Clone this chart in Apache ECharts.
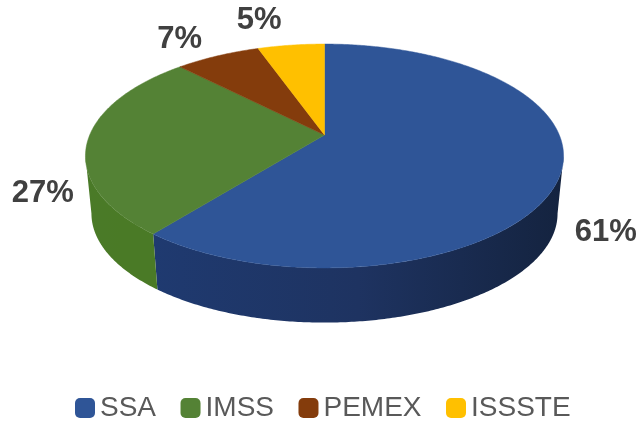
<!DOCTYPE html>
<html>
<head>
<meta charset="utf-8">
<style>html,body{margin:0;padding:0;background:#fff}#c{width:643px;height:422px}</style>
<script src="https://cdn.jsdelivr.net/npm/echarts@6/dist/echarts.min.js"></script>
</head>
<body>
<div id="c"></div>
<script>
// Data
var categories = ['SSA', 'IMSS', 'PEMEX', 'ISSSTE'];
var values = [60.7, 27, 6.9, 5.4];
var percentLabels = ['61%', '27%', '7%', '5%'];

// Styles
var topColors = ['#2f5597', '#548235', '#843c0c', '#ffc000'];
var wallColors = [
  ['#1f3a70', '#1e3361', '#14233f'],
  ['#4a7a28', '#4a7a26', '#4a7a26'],
  ['#5e2b08', '#5e2b08', '#5e2b08'],
  ['#b58800', '#b58800', '#b58800']
];
var labelNudge = [[45, 59], [-45, 53], [-38, -16], [-32, -25]];

// Tilted-disc projection (perspective of a circle seen from above)
var CX = 324.5, CY = 135, RX = 234.8, RY = 108, K = 0.1875;
var WALL_SCALE = 0.975, WALL_DROP = 58;
var total = values.reduce(function (a, b) { return a + b; }, 0);

function project(theta, scale, drop) {
  var u = Math.sin(theta), v = -Math.cos(theta);
  var s = 1 / (1 - K * v);
  return [CX + RX * u * s * scale, CY + RY * v * s * scale + drop];
}
function arc(a0, a1, scale, drop) {
  var n = Math.max(2, Math.ceil(Math.abs(a1 - a0) / 0.01)), pts = [];
  for (var i = 0; i <= n; i++) pts.push(project(a0 + (a1 - a0) * i / n, scale, drop));
  return pts;
}
// Angles run from the top of the disc, counter-clockwise (negative), ISSSTE first.
var angles = [], acc = 0;
for (var i = values.length - 1; i >= 0; i--) {
  var a0 = -acc / total * Math.PI * 2;
  acc += values[i];
  angles[i] = [a0, -acc / total * Math.PI * 2];
}
// The side wall shows only between the left and right tangent points of the disc.
var tangent = Math.acos(-K);
var WALL_FROM = -tangent, WALL_TO = -(2 * Math.PI - tangent);

function renderSlice(idx) {
  return function () {
    var a0 = angles[idx][0], a1 = angles[idx][1];
    var topArc = arc(a0, a1, 1, 0);
    var mid = project((a0 + a1) / 2, 1, 0);
    var c = wallColors[idx];
    var children = [];
    var w0 = Math.min(a0, WALL_FROM), w1 = Math.max(a1, WALL_TO);
    if (w0 > w1) {
      children.push({
        type: 'polygon', z2: 1,
        shape: { points: arc(w0, w1, 1, 0).concat(arc(w1, w0, WALL_SCALE, WALL_DROP)) },
        style: { fill: new echarts.graphic.LinearGradient(0, 0, 1, 0, [
          { offset: 0, color: c[0] }, { offset: 0.5, color: c[1] }, { offset: 1, color: c[2] }
        ]) }
      });
    }
    children.push({
      type: 'polygon', z2: 2,
      shape: { points: [[CX, CY]].concat(topArc) },
      style: { fill: topColors[idx], stroke: topColors[idx], lineWidth: 0.5 }
    });
    children.push({
      type: 'text', z2: 3,
      style: {
        text: percentLabels[idx],
        x: mid[0] + labelNudge[idx][0],
        y: mid[1] + labelNudge[idx][1],
        align: 'center', verticalAlign: 'middle',
        fill: '#404040',
        font: 'bold 31px "Liberation Sans", Arial, sans-serif'
      }
    });
    return { type: 'group', children: children };
  };
}

var chart = echarts.init(document.getElementById('c'), null, { renderer: 'canvas' });
chart.setOption({
  animation: false,
  backgroundColor: '#ffffff',
  legend: {
    data: categories,
    left: 75, top: 394,
    padding: 0,
    icon: 'roundRect',
    itemWidth: 20, itemHeight: 20, itemGap: 24.5,
    textStyle: { fontFamily: '"Liberation Sans", Arial, sans-serif', fontSize: 28, color: '#595959' }
  },
  series: categories.map(function (name, idx) {
    return {
      type: 'custom',
      name: name,
      coordinateSystem: 'none',
      silent: true,
      itemStyle: { color: topColors[idx] },
      renderItem: renderSlice(idx),
      data: [values[idx]]
    };
  })
});
</script>
</body>
</html>
